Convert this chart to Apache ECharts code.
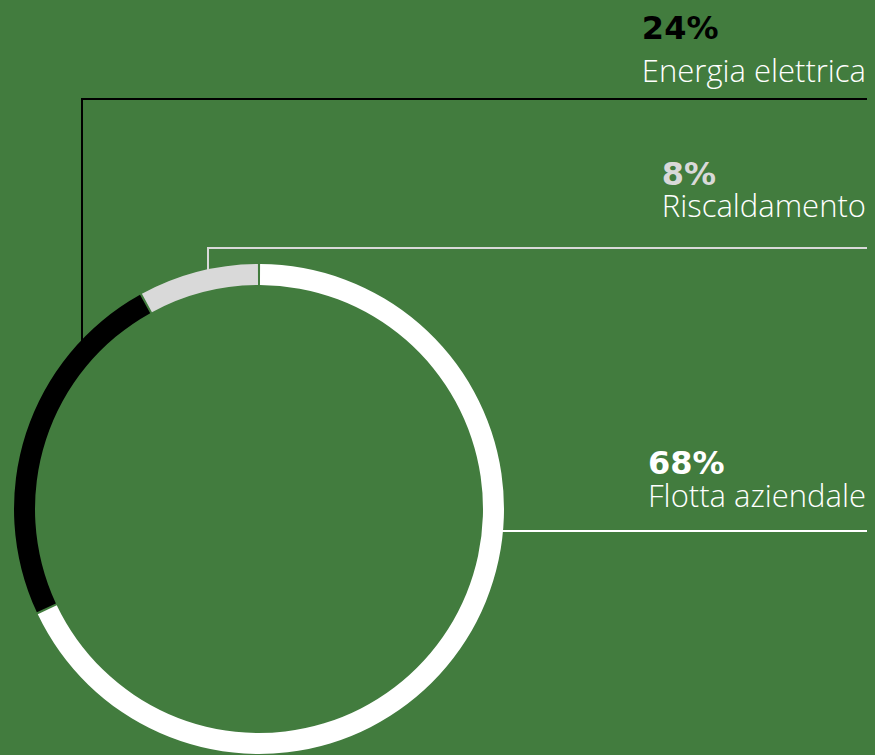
<!DOCTYPE html>
<html><head><meta charset="utf-8">
<script src="https://cdn.jsdelivr.net/npm/echarts@6/dist/echarts.min.js"></script>
<style>html,body{margin:0;padding:0;background:#427c3e;}#c{width:875px;height:755px;}</style>
</head><body><div id="c"></div>
<script>
const categories = ['Flotta aziendale', 'Energia elettrica', 'Riscaldamento'];
const values = [68, 24, 8];
const percentLabels = ['68%', '24%', '8%'];
const colors = ['#ffffff', '#000000', '#d9d9d9'];
const BG = '#427c3e';

const cx = 259, cy = 509, R = 245, r = 224;
// leader geometry per category: vertical x (if any), horizontal y, percent baseline, name baseline
const leader = [
  {hy: 531, pb: 474, nb: 506},
  {vx: 82, hy: 99, pb: 39, nb: 81},
  {vx: 208, hy: 248, pb: 185, nb: 216}
];
const rightEdge = 867;
const pctFont = 'bold 32px "DejaVu Sans"';
const nameFont = '300 31px "Open Sans"';

const ctx = document.createElement('canvas').getContext('2d');
function textWidth(t, f) { ctx.font = f; return ctx.measureText(t).width; }

const graphics = [];
categories.forEach((name, i) => {
  const L = leader[i];
  let pts;
  if (L.vx != null) {
    const ay = cy - Math.sqrt(R * R - (cx - L.vx) * (cx - L.vx)) + 2;
    pts = [[L.vx, ay], [L.vx, L.hy], [rightEdge, L.hy]];
  } else {
    const ax = cx + Math.sqrt(R * R - (L.hy - cy) * (L.hy - cy)) - 2;
    pts = [[ax, L.hy], [rightEdge, L.hy]];
  }
  graphics.push({type: 'polyline', silent: true, shape: {points: pts},
    style: {stroke: colors[i], lineWidth: 2, fill: null}});
  const left = rightEdge - textWidth(name, nameFont) - 1;
  graphics.push({type: 'text', silent: true, x: left, y: L.pb - 11,
    style: {text: percentLabels[i], font: pctFont, fill: colors[i], align: 'left', verticalAlign: 'middle', lineHeight: 30}});
  graphics.push({type: 'text', silent: true, x: left, y: L.nb - 11,
    style: {text: name, font: nameFont, fill: '#ffffff', align: 'left', verticalAlign: 'middle', lineHeight: 30}});
});

const chart = echarts.init(document.getElementById('c'), null, {renderer: 'svg'});
chart.setOption({
  backgroundColor: BG,
  animation: false,
  graphic: graphics,
  series: [{
    type: 'pie',
    center: [cx, cy],
    radius: [r, R],
    startAngle: 90,
    clockwise: true,
    padAngle: 0.5,
    silent: true,
    label: {show: false},
    labelLine: {show: false},
    data: categories.map((name, i) => ({name, value: values[i], itemStyle: {color: colors[i]}}))
  }]
});
</script>
</body></html>
